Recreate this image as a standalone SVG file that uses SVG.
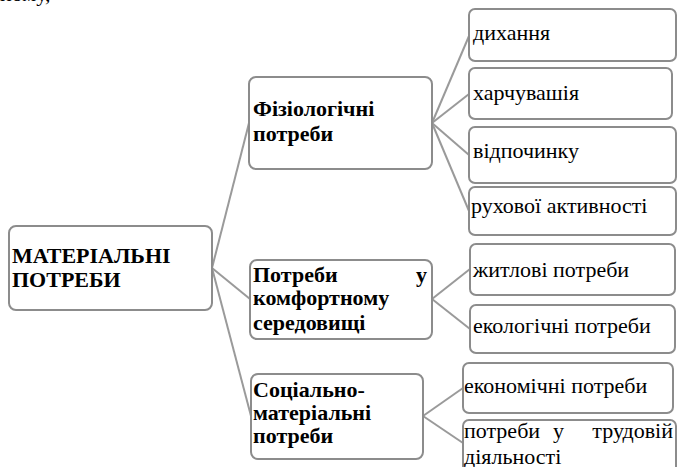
<svg xmlns="http://www.w3.org/2000/svg" width="677" height="467" viewBox="0 0 677 467">
<rect width="677" height="467" fill="#fff"/>
<text font-family="Liberation Serif, Times New Roman, serif" font-size="22" x="0" y="1">ному,</text>
<g id="connectors" stroke="#9a9a9a" stroke-width="2" fill="none">
<line x1="212" y1="268" x2="249" y2="123"/>
<line x1="212" y1="268" x2="250" y2="299"/>
<line x1="212" y1="268" x2="251" y2="416"/>
<line x1="432" y1="123" x2="469" y2="36"/>
<line x1="432" y1="123" x2="469" y2="94"/>
<line x1="432" y1="123" x2="469" y2="155"/>
<line x1="432" y1="123" x2="469" y2="211"/>
<line x1="432" y1="299" x2="470" y2="269"/>
<line x1="432" y1="299" x2="470" y2="329"/>
<line x1="423" y1="416" x2="463" y2="388"/>
<line x1="423" y1="416" x2="463" y2="443"/>
</g>
<g id="root">
<rect fill="#fff" stroke="#8c8c8c" stroke-width="2" x="9" y="226" width="203" height="84" rx="7"/>
<text font-family="Liberation Serif, Times New Roman, serif" font-weight="bold" font-size="22" x="12" y="263">МАТЕРІАЛЬНІ</text>
<text font-family="Liberation Serif, Times New Roman, serif" font-weight="bold" font-size="22" x="12" y="287">ПОТРЕБИ</text>
</g>
<g id="fiziol">
<rect fill="#fff" stroke="#8c8c8c" stroke-width="2" x="249" y="77" width="183" height="92" rx="7"/>
<text font-family="Liberation Serif, Times New Roman, serif" font-weight="bold" font-size="22" x="253" y="116">Фізіологічні</text>
<text font-family="Liberation Serif, Times New Roman, serif" font-weight="bold" font-size="22" x="253" y="141">потреби</text>
</g>
<g id="komfort">
<rect fill="#fff" stroke="#8c8c8c" stroke-width="2" x="250" y="260" width="182" height="79" rx="7"/>
<text font-family="Liberation Serif, Times New Roman, serif" font-weight="bold" font-size="22" x="253" y="282">Потреби</text>
<text font-family="Liberation Serif, Times New Roman, serif" font-weight="bold" font-size="22" x="427" y="282" text-anchor="end">у</text>
<text font-family="Liberation Serif, Times New Roman, serif" font-weight="bold" font-size="22" x="253" y="305">комфортному</text>
<text font-family="Liberation Serif, Times New Roman, serif" font-weight="bold" font-size="22" x="253" y="330">середовищі</text>
</g>
<g id="social">
<rect fill="#fff" stroke="#8c8c8c" stroke-width="2" x="251" y="374" width="172" height="85" rx="7"/>
<text font-family="Liberation Serif, Times New Roman, serif" font-weight="bold" font-size="22" x="253" y="397">Соціально-</text>
<text font-family="Liberation Serif, Times New Roman, serif" font-weight="bold" font-size="22" x="253" y="420">матеріальні</text>
<text font-family="Liberation Serif, Times New Roman, serif" font-weight="bold" font-size="22" x="253" y="443">потреби</text>
</g>
<g id="dykhannia">
<rect fill="#fff" stroke="#8c8c8c" stroke-width="2" x="469" y="9" width="207" height="52" rx="6"/>
<text font-family="Liberation Serif, Times New Roman, serif" font-size="22" x="473" y="40">дихання</text>
</g>
<g id="kharchuvannia">
<rect fill="#fff" stroke="#8c8c8c" stroke-width="2" x="469" y="68" width="203" height="51" rx="6"/>
<text font-family="Liberation Serif, Times New Roman, serif" font-size="22" x="473" y="100">харчувашія</text>
</g>
<g id="vidpochynok">
<rect fill="#fff" stroke="#8c8c8c" stroke-width="2" x="469" y="127" width="207" height="56" rx="6"/>
<text font-family="Liberation Serif, Times New Roman, serif" font-size="22" x="473" y="158">відпочинку</text>
</g>
<g id="rukhova">
<rect fill="#fff" stroke="#8c8c8c" stroke-width="2" x="469" y="187" width="207" height="48" rx="6"/>
<text font-family="Liberation Serif, Times New Roman, serif" font-size="22" x="471" y="213">рухової активності</text>
</g>
<g id="zhytlovi">
<rect fill="#fff" stroke="#8c8c8c" stroke-width="2" x="470" y="244" width="205" height="51" rx="6"/>
<text font-family="Liberation Serif, Times New Roman, serif" font-size="22" x="473" y="277">житлові потреби</text>
</g>
<g id="ekolohichni">
<rect fill="#fff" stroke="#8c8c8c" stroke-width="2" x="470" y="305" width="205" height="48" rx="6"/>
<text font-family="Liberation Serif, Times New Roman, serif" font-size="22" x="473" y="333">екологічні потреби</text>
</g>
<g id="ekonomichni">
<rect fill="#fff" stroke="#8c8c8c" stroke-width="2" x="463" y="363" width="210" height="50" rx="6"/>
<text font-family="Liberation Serif, Times New Roman, serif" font-size="22" x="464" y="393">економічні потреби</text>
</g>
<g id="trudova">
<rect fill="#fff" stroke="#8c8c8c" stroke-width="2" x="463" y="420" width="213" height="60" rx="6"/>
<text font-family="Liberation Serif, Times New Roman, serif" font-size="22" x="464" y="438">потреби</text>
<text font-family="Liberation Serif, Times New Roman, serif" font-size="22" x="553" y="438">у</text>
<text font-family="Liberation Serif, Times New Roman, serif" font-size="22" x="673" y="438" text-anchor="end">трудовій</text>
<text font-family="Liberation Serif, Times New Roman, serif" font-size="22" x="464" y="464">діяльності</text>
</g>
</svg>
